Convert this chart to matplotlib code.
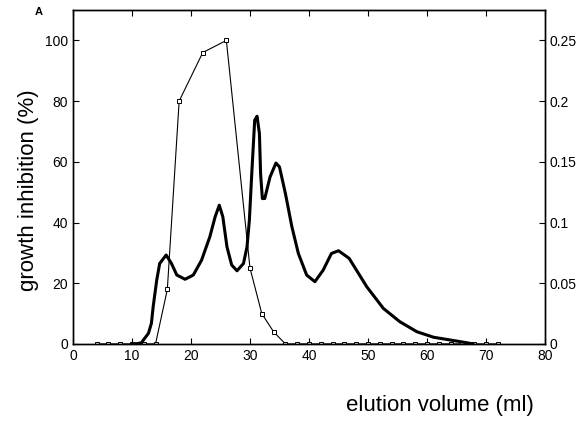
import numpy as np
import matplotlib.pyplot as plt

plt.rcParams['font.family'] = ['Liberation Sans', 'DejaVu Sans']

# growth inhibition (%) - thin line with small markers
vol_inh = [4, 6, 8, 10, 12, 14, 16, 18, 22, 26, 30, 32, 34, 36, 38, 40, 42, 44,
           46, 48, 50, 52, 54, 56, 58, 60, 62, 64, 66, 68, 70, 72]
inhib = [0, 0, 0, 0, 0, 0, 18, 80, 96, 100, 25, 10, 4, 0, 0, 0, 0, 0,
         0, 0, 0, 0, 0, 0, 0, 0, 0, 0, 0, 0, 0, 0]

# absorbance - thick line (right axis)
vol_abs = [10.0, 11.0, 11.6, 12.8, 13.3, 13.6, 14.2, 14.7, 15.8, 16.7,
           17.6, 19.0, 20.4, 21.8, 23.2, 24.1, 24.8, 25.4, 26.1, 26.9,
           27.8, 28.9, 29.5, 29.9, 30.3, 30.8, 31.2, 31.6, 31.8, 32.1,
           32.5, 33.4, 34.4, 35.0, 36.0, 37.1, 38.2, 39.6, 41.0, 42.4,
           43.8, 45.0, 46.8, 49.8, 52.6, 55.4, 58.3, 61.1, 63.9, 66.7,
           67.8]
absorb = [0, 0.00025, 0.001, 0.00875, 0.017, 0.03075, 0.0525, 0.06625, 0.07325, 0.06625,
          0.05675, 0.05325, 0.05675, 0.069, 0.08825, 0.10475, 0.11425, 0.10475, 0.08, 0.065,
          0.06025, 0.06625, 0.08, 0.102, 0.14, 0.18425, 0.1875, 0.17325, 0.14, 0.11975,
          0.11975, 0.1375, 0.149, 0.14575, 0.124, 0.0965, 0.0745, 0.05675, 0.05125, 0.06075,
          0.0745, 0.07675, 0.0705, 0.047, 0.02925, 0.01825, 0.01, 0.0055, 0.00325, 0.001,
          0]

fig = plt.figure(figsize=(5.88, 4.37), dpi=100)
ax = fig.add_axes([0.124, 0.213, 0.803, 0.764])
ax2 = ax.twinx()

ax.plot(vol_inh, inhib, color='black', lw=0.8, marker='s', ms=2.5,
        mfc='white', mec='black', mew=0.7)
ax2.plot(vol_abs, absorb, color='black', lw=2.2, solid_joinstyle='round',
         solid_capstyle='round')

ax.set_xlim(0, 80)
ax.set_ylim(0, 110)
ax2.set_ylim(0, 0.275)
ax.set_xticks(range(0, 81, 10))
ax.set_yticks(range(0, 101, 20))
ax2.set_yticks([0, 0.05, 0.1, 0.15, 0.2, 0.25])
ax2.set_yticklabels(['0', '0.05', '0.1', '0.15', '0.2', '0.25'])

ax.tick_params(direction='in', top=True, length=4, labelsize=10)
ax2.tick_params(direction='in', length=4, labelsize=10)
for a in (ax, ax2):
    for s in a.spines.values():
        s.set_linewidth(1.0)

fig.text(0.048, 0.565, 'growth inhibition (%)', rotation=90, fontsize=16,
         ha='center', va='center')
fig.text(0.748, 0.073, 'elution volume (ml)', fontsize=16, ha='center', va='center')
fig.text(0.065, 0.972, 'A', fontsize=8, fontweight='bold', ha='center', va='center')

fig.savefig('out.png', dpi=100)
